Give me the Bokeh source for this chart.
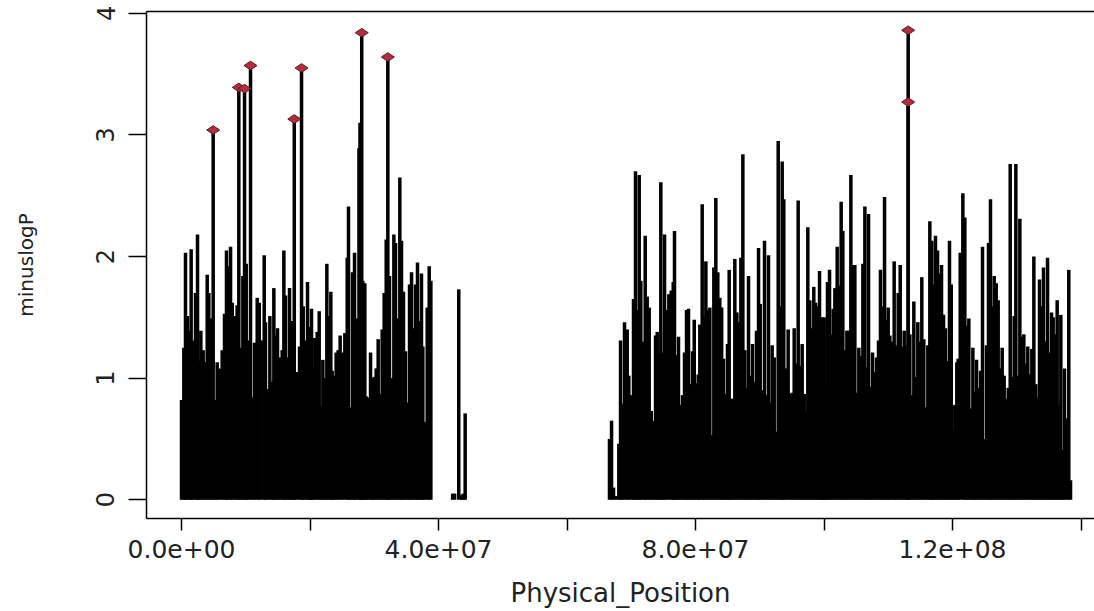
import math
from bokeh.plotting import figure
from bokeh.models import Range1d, FixedTicker, LinearAxis, ColumnDataSource
from bokeh.embed import file_html
from bokeh.resources import INLINE

# ---- data (positions in Mb, values = -log10 P) ----
position_mb = [
    0.00, 0.36, 0.62, 0.93, 1.30, 1.50, 1.76, 2.18, 2.49, 2.70, 3.01, 3.37, 3.63, 4.00, 4.25, 4.62,
    4.93, 5.29, 5.55, 5.91, 6.33, 6.69, 7.00, 7.26, 7.63, 7.89, 8.30, 8.66, 8.92, 9.18, 9.55, 9.81,
    10.07, 10.38, 10.74, 11.10, 11.36, 11.78, 12.10, 12.40, 12.87, 13.07, 13.39, 13.75, 14.11, 14.37,
    14.63, 14.94, 15.25, 15.67, 15.93, 16.19, 16.50, 16.81, 17.12, 17.48, 17.55, 18.00, 18.37, 18.68,
    18.94, 19.19, 19.61, 19.81, 20.02, 20.23, 20.44, 20.75, 21.12, 21.43, 21.74, 22.00, 22.31, 22.62,
    22.93, 23.24, 23.45, 23.71, 24.07, 24.38, 24.69, 25.01, 25.42, 25.79, 25.99, 26.30, 26.61, 26.93,
    27.19, 27.62, 27.78, 28.05, 28.22, 28.53, 28.74, 29.05, 29.42, 29.68, 29.99, 30.30, 30.61, 30.92,
    31.23, 31.54, 31.86, 32.11, 32.37, 32.68, 33.05, 33.31, 33.62, 33.98, 34.24, 34.55, 34.86, 35.18,
    35.49, 35.80, 36.06, 36.42, 36.73, 36.99, 37.35, 37.56, 37.87, 38.24, 38.55, 38.81,
    42.20, 42.50, 43.15, 43.60, 43.85, 44.15,
    66.61, 66.93, 67.24, 67.65, 68.07, 68.33, 68.59, 68.95, 69.37, 69.62, 69.99, 70.35, 70.66, 70.92,
    71.24, 71.49, 71.86, 72.17, 72.48, 72.79, 73.11, 73.42, 73.78, 74.04, 74.35, 74.60, 74.91, 75.18,
    75.44, 75.85, 76.22, 76.53, 76.73, 77.04, 77.35, 77.67, 77.98, 78.29, 78.60, 78.91, 79.22, 79.53,
    79.80, 80.11, 80.42, 80.67, 81.04, 81.30, 81.61, 81.92, 82.23, 82.54, 82.85, 83.16, 83.47, 83.78,
    84.07, 84.36, 84.67, 84.98, 85.24, 85.50, 85.81, 86.12, 86.44, 86.75, 87.06, 87.37, 87.68, 87.99,
    88.25, 88.56, 88.87, 89.18, 89.49, 89.81, 90.07, 90.38, 90.74, 91.05, 91.36, 91.67, 91.93, 92.25,
    92.56, 92.87, 93.18, 93.49, 93.74, 94.06, 94.42, 94.73, 95.05, 95.36, 95.67, 95.98, 96.29, 96.60,
    96.92, 97.17, 97.48, 97.79, 98.10, 98.41, 98.68, 98.99, 99.30, 99.61, 99.82, 100.03, 100.23, 100.54,
    100.86, 101.12, 101.43, 101.69, 102.05, 102.31, 102.67, 102.93, 103.24, 103.56, 103.87, 104.18,
    104.49, 104.80, 105.11, 105.42, 105.73, 106.05, 106.36, 106.67, 106.93, 107.24, 107.55, 107.86,
    108.17, 108.48, 108.79, 109.06, 109.42, 109.68, 109.99, 110.25, 110.61, 110.92, 111.23, 111.55,
    111.86, 112.17, 112.48, 112.79, 113.10, 113.10, 113.36, 113.67, 113.98, 114.29, 114.60, 114.91,
    115.22, 115.53, 115.85, 116.16, 116.47, 116.78, 117.04, 117.35, 117.67, 117.98, 118.29, 118.60,
    118.91, 119.22, 119.53, 119.80, 120.11, 120.36, 120.67, 120.88, 121.20, 121.61, 121.92, 122.18,
    122.54, 122.86, 123.17, 123.42, 123.74, 124.05, 124.36, 124.67, 124.98, 125.29, 125.60, 125.91,
    126.18, 126.49, 126.80, 127.11, 127.42, 127.73, 128.04, 128.36, 128.67, 128.98, 129.29, 129.60,
    129.86, 130.17, 130.48, 130.79, 131.10, 131.41, 131.72, 132.03, 132.35, 132.66, 132.97, 133.23,
    133.54, 133.85, 134.16, 134.47, 134.79, 135.10, 135.41, 135.67, 135.98, 136.29, 136.55, 136.86,
    137.12, 137.43, 137.74, 138.10, 138.37,
]
minuslogP = [
    0.82, 1.25, 2.03, 1.51, 1.39, 2.06, 1.31, 1.70, 2.18, 1.14, 1.39, 1.23, 1.13, 1.85, 1.70, 1.49,
    3.04, 0.82, 1.13, 1.08, 1.23, 1.53, 2.05, 1.92, 2.08, 1.62, 1.51, 1.60, 3.39, 1.25, 1.84, 3.38,
    1.94, 1.31, 3.57, 0.84, 1.29, 1.66, 1.62, 1.31, 2.01, 1.46, 0.91, 1.51, 0.97, 1.74,
    1.35, 1.41, 1.17, 1.23, 2.05, 1.68, 1.17, 1.74, 1.47, 0.87, 3.13, 1.05, 1.26, 3.55,
    1.59, 1.31, 1.79, 1.42, 1.40, 1.57, 1.09, 1.33, 1.38, 1.55, 0.77, 1.15, 1.00, 1.94,
    1.51, 1.71, 1.06, 1.02, 1.21, 1.23, 1.35, 1.21, 1.37, 1.99, 2.41, 0.76, 1.87, 2.03,
    1.49, 2.89, 3.10, 3.84, 1.80, 1.78, 0.85, 0.84, 1.21, 1.00, 1.01, 1.08, 1.32, 0.87,
    1.40, 1.70, 2.14, 3.64, 1.84, 1.00, 2.18, 2.11, 1.49, 2.65, 2.13, 1.71, 1.22, 0.80,
    1.77, 1.87, 1.41, 1.77, 1.95, 1.47, 1.86, 1.26, 0.64, 1.58, 1.92, 1.80,
    0.05, 0.05, 1.73, 0.04, 0.05, 0.71,
    0.50, 0.65, 0.10, 0.03, 0.46, 1.31, 0.79, 1.46, 1.40, 1.02, 0.86, 1.65, 2.70, 1.56,
    2.67, 1.80, 1.30, 2.17, 1.67, 1.58, 0.73, 0.65, 1.35, 1.38, 1.20, 2.61, 1.21, 2.18,
    1.56, 1.69, 1.72, 1.79, 2.21, 1.19, 1.34, 0.78, 0.86, 1.21, 1.56, 1.57, 0.95, 1.22,
    1.48, 0.96, 1.03, 1.44, 2.43, 1.51, 1.96, 1.56, 1.58, 0.53, 1.91, 2.48, 1.87, 1.66,
    1.58, 1.16, 0.87, 1.28, 1.89, 0.83, 0.83, 1.98, 1.54, 1.46, 1.99, 2.84, 1.23, 0.92,
    1.84, 1.02, 1.28, 0.97, 1.39, 2.07, 1.61, 0.90, 2.13, 0.86, 2.01, 0.80, 1.27, 1.17,
    0.56, 2.95, 1.59, 2.78, 2.47, 1.08, 1.40, 0.87, 0.88, 1.41, 1.12, 2.46, 1.10, 1.28,
    0.87, 0.72, 2.24, 1.64, 1.41, 1.75, 1.62, 1.59, 1.88, 1.50, 0.34, 1.50, 0.94, 1.79,
    1.89, 1.36, 1.57, 1.74, 2.08, 1.76, 2.45, 2.21, 1.23, 1.39, 1.39, 2.67,
    1.93, 1.93, 0.88, 1.25, 1.18, 1.94, 2.41, 1.09, 2.35, 0.93, 1.21, 1.05,
    1.17, 1.31, 1.89, 1.59, 2.49, 1.48, 1.58, 1.35, 1.30, 1.96, 1.27, 1.70,
    1.93, 1.26, 1.39, 1.27, 3.86, 3.27, 1.36, 0.86, 1.63, 1.01, 1.46, 1.30,
    1.83, 1.32, 0.76, 1.27, 2.29, 2.13, 1.77, 2.17, 2.05, 1.86, 1.93, 1.52,
    1.41, 1.14, 2.13, 1.77, 0.58, 0.78, 1.13, 1.16, 2.03, 2.52, 2.32, 1.43,
    1.49, 0.75, 1.25, 0.89, 1.15, 0.92, 1.06, 2.08, 0.50, 1.27, 2.11, 2.47,
    1.59, 1.84, 1.78, 1.64, 1.08, 1.25, 1.02, 0.83, 0.92, 2.76, 1.01, 1.51,
    2.76, 1.02, 2.31, 1.34, 1.36, 1.12, 1.26, 1.03, 1.24, 2.00, 0.95, 0.84,
    1.81, 1.59, 1.91, 1.30, 1.99, 1.21, 1.54, 1.50, 1.36, 1.64, 0.78, 1.52,
    0.41, 1.08, 0.67, 1.89, 0.16,
]
highlight_pos_mb = [4.93, 8.92, 9.81, 10.74, 17.55, 18.68, 28.05, 32.11, 113.10, 113.10]
highlight_p = [3.04, 3.39, 3.38, 3.57, 3.13, 3.55, 3.84, 3.64, 3.86, 3.27]

x_ticks = [0, 20000000, 40000000, 60000000, 80000000, 100000000, 120000000, 140000000]
x_tick_labels = ["0.0e+00", "", "4.0e+07", "", "8.0e+07", "", "1.2e+08", ""]
y_ticks = [0, 1, 2, 3, 4]

pos_bp = [m * 1e6 for m in position_mb]
hl_bp = [m * 1e6 for m in highlight_pos_mb]

FONT = "DejaVu Sans"
TXT = "#222222"

p = figure(width=1094, height=611,
           x_range=Range1d(-5.45e6, 142.1e6), y_range=Range1d(-0.1544, 4.0144),
           output_backend="svg", toolbar_location=None,
           min_border_left=146, min_border_right=0, min_border_top=11, min_border_bottom=93)
p.grid.visible = False
p.outline_line_color = None
p.background_fill_color = "white"
p.border_fill_color = "white"

src = ColumnDataSource(dict(x=pos_bp, y=minuslogP))
p.segment(x0="x", y0=0, x1="x", y1="y", source=src, line_color="black", line_width=3.5)
p.scatter(x=hl_bp, y=highlight_p, marker="diamond", size=13, angle=math.pi / 2,
          fill_color="#b22d3e", line_color="#5a1a22", line_width=1)

xa = p.xaxis[0]
xa.ticker = FixedTicker(ticks=x_ticks)
xa.major_label_overrides = {t: l for t, l in zip(x_ticks, x_tick_labels)}
xa.major_tick_out = 12
xa.major_tick_in = 0
xa.minor_tick_out = 0
xa.minor_tick_in = 0
xa.axis_line_width = 1.5
xa.axis_line_color = "black"
xa.major_tick_line_width = 1.5
xa.major_label_text_font = FONT
xa.major_label_text_font_size = "25px"
xa.major_label_text_color = TXT
xa.major_label_standoff = 9
xa.axis_label = "Physical_Position"
xa.axis_label_text_font = FONT
xa.axis_label_text_font_size = "26px"
xa.axis_label_text_font_style = "normal"
xa.axis_label_text_color = TXT
xa.axis_label_standoff = 17

ya = p.yaxis[0]
ya.ticker = FixedTicker(ticks=y_ticks)
ya.major_label_orientation = "vertical"
ya.major_tick_out = 18
ya.major_tick_in = 0
ya.minor_tick_out = 0
ya.minor_tick_in = 0
ya.axis_line_width = 1.5
ya.axis_line_color = "black"
ya.major_tick_line_width = 1.5
ya.major_label_text_font = FONT
ya.major_label_text_font_size = "24px"
ya.major_label_text_color = TXT
ya.major_label_standoff = 14
ya.axis_label = "minuslogP"
ya.axis_label_text_font = FONT
ya.axis_label_text_font_size = "20px"
ya.axis_label_text_font_style = "normal"
ya.axis_label_text_color = TXT
ya.axis_label_standoff = 56

top = LinearAxis(ticker=FixedTicker(ticks=[]), major_tick_out=0, major_tick_in=0,
                 minor_tick_out=0, minor_tick_in=0, major_label_text_font_size="0px",
                 axis_line_width=1.5, axis_line_color="black")
p.add_layout(top, "above")

open("out.html", "w").write(file_html(p, INLINE))
